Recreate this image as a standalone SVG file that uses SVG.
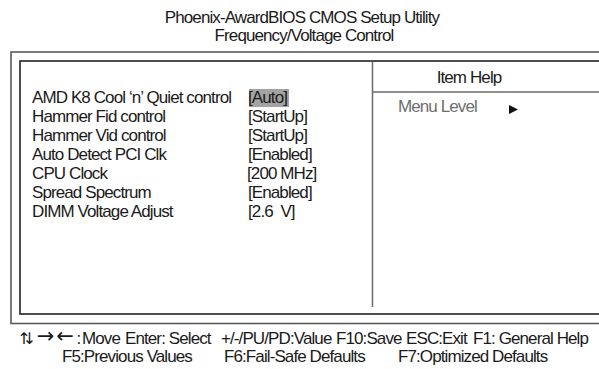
<svg xmlns="http://www.w3.org/2000/svg" width="599" height="369" viewBox="0 0 599 369">
  <style>
    text { font-family: "Liberation Sans", Arial, sans-serif; font-size: 17px; letter-spacing: -0.9px; fill: #1a1a1a; }
    .c { text-anchor: middle; }
    .gray { fill: #6e6e6e; }
    text.ud { font-family: "DejaVu Sans", sans-serif; font-size: 16px; letter-spacing: -7.9px; }
    text.lr { font-family: "DejaVu Sans", sans-serif; font-size: 21px; letter-spacing: 1.9px; }
    .outer { fill: none; stroke: #5a5a5a; stroke-width: 1.6; }
    .inner { fill: none; stroke: #222; stroke-width: 1.6; }
    .rule { stroke: #6a6a6a; stroke-width: 1.5; fill: none; }
  </style>
  <rect width="599" height="369" fill="#fff"/>
  <g id="title">
    <text class="c" x="302" y="23">Phoenix-AwardBIOS CMOS Setup Utility</text>
    <text class="c" x="304" y="41">Frequency/Voltage Control</text>
  </g>
  <g id="frames">
    <rect class="outer" x="11" y="52" width="600" height="271.5"/>
    <rect class="inner" x="20" y="61" width="590" height="253"/>
    <line class="rule" x1="372.5" y1="62" x2="372.5" y2="307"/>
    <line class="rule" x1="373" y1="92" x2="599" y2="92"/>
  </g>
  <g id="settings">
    <rect x="249" y="89" width="40" height="18" fill="#a3a3a3"/>
    <text x="32" y="103">AMD K8 Cool ‘n’ Quiet control</text>
    <text x="248" y="103">[Auto]</text>
    <text x="32" y="122">Hammer Fid control</text>
    <text x="248" y="122">[StartUp]</text>
    <text x="32" y="141">Hammer Vid control</text>
    <text x="248" y="141">[StartUp]</text>
    <text x="32" y="160">Auto Detect PCI Clk</text>
    <text x="248" y="160">[Enabled]</text>
    <text x="32" y="179">CPU Clock</text>
    <text x="247" y="179">[200 MHz]</text>
    <text x="32" y="198">Spread Spectrum</text>
    <text x="248" y="198">[Enabled]</text>
    <text x="32" y="217">DIMM Voltage Adjust</text>
    <text x="248" y="217" xml:space="preserve">[2.6  V]</text>
  </g>
  <g id="help">
    <text class="c" x="469" y="82.5">Item Help</text>
    <text class="gray" x="398" y="111.5">Menu Level</text>
    <polygon points="509,105 518,109.5 509,114" fill="#111"/>
  </g>
  <g id="keys">
    <text class="ud" x="17.3" y="344">↑↓</text>
    <text class="lr" x="36.7" y="343">→←</text>
    <text x="76.5" y="344">:</text>
    <text x="82" y="344">Move</text>
    <text x="125" y="344">Enter: Select</text>
    <text x="221" y="344">+/-/PU/PD:Value</text>
    <text x="336" y="344">F10:Save</text>
    <text x="406" y="344">ESC:Exit</text>
    <text x="473" y="344">F1: General Help</text>
    <text x="62" y="362">F5:Previous Values</text>
    <text x="224" y="362">F6:Fail-Safe Defaults</text>
    <text x="398" y="362">F7:Optimized Defaults</text>
  </g>
</svg>
